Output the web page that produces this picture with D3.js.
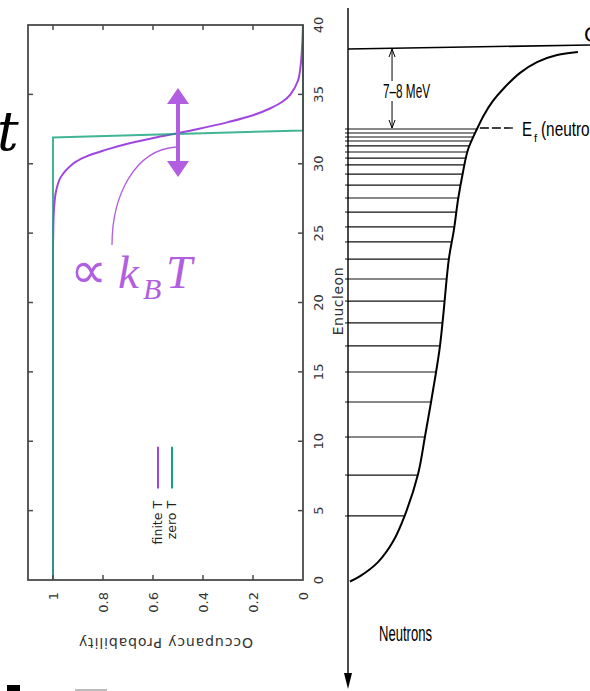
<!DOCTYPE html>
<html>
<head>
<meta charset="utf-8">
<script src="https://cdn.jsdelivr.net/npm/d3@7"></script>
<style>
  html, body { margin: 0; padding: 0; background: #fff; overflow: hidden; }
  svg { display: block; }
</style>
</head>
<body>
<svg id="chart" width="590" height="691"></svg>
<script>
// ---------------- DATA ----------------
// Left panel: occupancy probability vs nucleon energy (plot rotated)
const energyTicks = [0, 5, 10, 15, 20, 25, 30, 35, 40];
const probTicks = [1, 0.8, 0.6, 0.4, 0.2, 0];
const probTickLabels = ["1", "0.8", "0.6", "0.4", "0.2", "0"];
const finiteE   = [0, 20, 24, 25, 26, 27, 28, 29, 30, 30.5, 31, 31.5, 32, 32.5, 33, 33.5, 34, 34.5, 35, 36, 37, 38, 39, 40];
const finiteOcc = [1, 1, 1, 0.999, 0.998, 0.995, 0.988, 0.97, 0.92, 0.87, 0.79, 0.69, 0.56, 0.42, 0.3, 0.2, 0.13, 0.08, 0.05, 0.02, 0.01, 0.005, 0.002, 0];
const zeroE   = [0, 31.9, 32.4, 40];
const zeroOcc = [1, 1, 0, 0];
const legendLabels = ["finite T", "zero T"];
const xAxisLabel = "Occupancy Probability";
const yAxisLabel = "Enucleon";

// Right panel: nuclear potential well (radius fm, energy MeV)
const wellR = [0.08, 0.5, 1.24, 1.86, 2.36, 2.89, 3.18, 3.43, 3.64, 3.80, 3.93, 4.17, 4.38, 4.55, 4.75, 4.96, 5.33, 5.62, 5.99, 6.45, 7.11, 7.81, 8.64, 9.5];
const wellE = [-49.4, -48.9, -47.6, -45.7, -43.2, -39.5, -36.0, -32.8, -30.0, -27.6, -24.9, -19.5, -16.8, -14.0, -11.5, -9.4, -7.5, -6.2, -4.9, -3.7, -2.3, -1.3, -0.65, -0.37];
const levelE = [-7.5, -7.87, -8.24, -8.61, -9.07, -9.63, -10.19, -10.83, -11.67, -12.69, -13.89, -15.19, -16.57, -17.96, -19.54, -21.39, -23.43, -25.46, -27.59, -30.0, -32.78, -36.02, -39.54, -43.33];
const fermiLevel = -7.5;
const continuumE = 0;
const separationLabel = "7\u20138 MeV";
const wellLabel = "Neutrons";

// ---------------- SETUP ----------------
const svg = d3.select("#chart");
const frameCol = "#4a4a4a";
const textCol = "#333";
const purple = "#a046e0";
const green = "#14a37a";
const annot = "#b25ee0";

// Left panel scales
const x = d3.scaleLinear().domain([1.1, 0]).range([28, 303]);
const y = d3.scaleLinear().domain([0, 40]).range([580, 25]);

const L = svg.append("g");

// Finite T curve
const finitePts = finiteE.map((e, i) => [finiteOcc[i], e]);
L.append("path")
  .datum(finitePts)
  .attr("fill", "none")
  .attr("stroke", purple)
  .attr("stroke-width", 2)
  .attr("d", d3.line().x(d => x(d[0])).y(d => y(d[1])).curve(d3.curveCatmullRom));

// Zero T curve
const zeroPts = zeroE.map((e, i) => [zeroOcc[i], e]);
L.append("path")
  .datum(zeroPts)
  .attr("fill", "none")
  .attr("stroke", green)
  .attr("stroke-opacity", 0.8)
  .attr("stroke-width", 2)
  .attr("d", d3.line().x(d => x(d[0])).y(d => y(d[1])));

// Frame
L.append("rect")
  .attr("x", x(1.1)).attr("y", y(40))
  .attr("width", x(0) - x(1.1)).attr("height", y(0) - y(40))
  .attr("fill", "none").attr("stroke", frameCol).attr("stroke-width", 1.8);

// Energy ticks (right axis, mirrored left)
const tl = 5;
energyTicks.forEach(t => {
  if (t > 0 && t < 40) {
    L.append("line").attr("x1", x(0)).attr("x2", x(0) - tl).attr("y1", y(t)).attr("y2", y(t))
      .attr("stroke", frameCol).attr("stroke-width", 1.5);
    L.append("line").attr("x1", x(1.1)).attr("x2", x(1.1) + tl).attr("y1", y(t)).attr("y2", y(t))
      .attr("stroke", frameCol).attr("stroke-width", 1.5);
  }
  L.append("text")
    .attr("transform", `translate(${x(0) + 15},${y(t)}) rotate(-90)`)
    .attr("text-anchor", "middle")
    .attr("dy", "0.35em")
    .attr("font-family", "DejaVu Sans, sans-serif")
    .attr("font-size", 13)
    .attr("fill", textCol)
    .text(t);
});

// Probability ticks (bottom axis, mirrored top)
probTicks.forEach((p, i) => {
  if (p > 0) {
    L.append("line").attr("x1", x(p)).attr("x2", x(p)).attr("y1", y(0)).attr("y2", y(0) - tl)
      .attr("stroke", frameCol).attr("stroke-width", 1.5);
    L.append("line").attr("x1", x(p)).attr("x2", x(p)).attr("y1", y(40)).attr("y2", y(40) + tl)
      .attr("stroke", frameCol).attr("stroke-width", 1.5);
  }
  L.append("text")
    .attr("transform", `translate(${x(p)},${y(0) + 12}) rotate(-90)`)
    .attr("text-anchor", "end")
    .attr("dy", "0.35em")
    .attr("font-family", "DejaVu Sans, sans-serif")
    .attr("font-size", 13)
    .attr("fill", textCol)
    .text(probTickLabels[i]);
});

// Axis labels
L.append("text")
  .attr("transform", `translate(${x(0.55)},643) rotate(180)`)
  .attr("text-anchor", "middle")
  .attr("dy", "0.35em")
  .attr("font-family", "DejaVu Sans, sans-serif")
  .attr("font-size", 14)
  .attr("letter-spacing", 0.9)
  .attr("fill", textCol)
  .text(xAxisLabel);

L.append("text")
  .attr("transform", `translate(338,${y(20.1)}) rotate(-90)`)
  .attr("text-anchor", "middle")
  .attr("dy", "0.35em")
  .attr("font-family", "DejaVu Sans, sans-serif")
  .attr("font-size", 14)
  .attr("letter-spacing", 0.5)
  .attr("fill", textCol)
  .text(yAxisLabel);

// Legend
const legCols = [purple, green];
legendLabels.forEach((lab, i) => {
  const lx = 158 + i * 14;
  L.append("line").attr("x1", lx).attr("x2", lx).attr("y1", y(9.6)).attr("y2", y(6.6))
    .attr("stroke", legCols[i]).attr("stroke-width", 2);
  L.append("text")
    .attr("transform", `translate(${lx},${y(5.7)}) rotate(-90)`)
    .attr("text-anchor", "end")
    .attr("dy", "0.35em")
    .attr("font-family", "DejaVu Sans, sans-serif")
    .attr("font-size", 12.5)
    .attr("fill", "#222")
    .text(lab);
});

// ---------------- Annotations (left) ----------------
const A = svg.append("g");
A.append("text")
  .attr("x", -3).attr("y", 150)
  .attr("font-family", "DejaVu Serif, serif")
  .attr("font-style", "italic")
  .attr("font-size", 54)
  .attr("fill", "#000")
  .text("t");

// double arrow at Fermi energy
const ax = x(0.5);
A.append("line").attr("x1", ax).attr("x2", ax).attr("y1", 100).attr("y2", 165)
  .attr("stroke", annot).attr("stroke-width", 4);
A.append("path").attr("d", `M${ax},88 L${ax - 11},104 L${ax + 11},104 Z`).attr("fill", annot);
A.append("path").attr("d", `M${ax},177 L${ax - 11},161 L${ax + 11},161 Z`).attr("fill", annot);

// thin connector curve
A.append("path")
  .attr("d", `M112,245 C112,195 135,150 ${ax - 2},147`)
  .attr("fill", "none").attr("stroke", annot).attr("stroke-width", 1.3);

const kt = A.append("text")
  .attr("y", 288)
  .attr("fill", annot)
  .attr("font-family", "Liberation Serif, serif")
  .attr("font-size", 47);
kt.append("tspan").attr("x", 70).attr("font-size", 52).text("\u221D");
kt.append("tspan").attr("x", 118).attr("font-style", "italic").text("k");
kt.append("tspan").attr("x", 143).attr("dy", 11).attr("font-size", 30).attr("font-style", "italic").text("B");
kt.append("tspan").attr("x", 166).attr("dy", -11).attr("font-style", "italic").text("T");

// cut-off fragments at the bottom
A.append("rect").attr("x", 7).attr("y", 685).attr("width", 13).attr("height", 6).attr("fill", "#000");
A.append("rect").attr("x", 75).attr("y", 689).attr("width", 32).attr("height", 2).attr("fill", "#bbb");

// ---------------- RIGHT PANEL ----------------
const r = d3.scaleLinear().domain([0, 10]).range([348, 590]);
const e = d3.scaleLinear().domain([0, -50]).range([48, 588]);
const R = svg.append("g");

// energy levels (right end on the well wall)
const wallR = d3.scaleLinear().domain(wellE).range(wellR);
levelE.forEach(le => {
  R.append("line")
    .attr("x1", r(0)).attr("x2", r(wallR(le)))
    .attr("y1", e(le)).attr("y2", e(le))
    .attr("stroke", "#111").attr("stroke-width", 1.2);
  R.append("line")
    .attr("x1", r(0) - 3).attr("x2", r(0))
    .attr("y1", e(le)).attr("y2", e(le))
    .attr("stroke", "#111").attr("stroke-width", 1);
});

// well curve
R.append("path")
  .datum(wellR.map((v, i) => [v, wellE[i]]))
  .attr("fill", "none").attr("stroke", "#000").attr("stroke-width", 2)
  .attr("d", d3.line().x(d => r(d[0])).y(d => e(d[1])).curve(d3.curveCatmullRom));

// vertical energy axis with arrow down
R.append("line").attr("x1", r(0)).attr("x2", r(0)).attr("y1", 8).attr("y2", 680)
  .attr("stroke", "#000").attr("stroke-width", 1.4);
R.append("path").attr("d", `M${r(0)},689 L${r(0) - 4},673 L${r(0) + 4},673 Z`).attr("fill", "#000");

// continuum line
R.append("line").attr("x1", r(0)).attr("x2", 590).attr("y1", e(continuumE) + 1).attr("y2", e(continuumE) - 3)
  .attr("stroke", "#000").attr("stroke-width", 1.6);
R.append("text")
  .attr("x", 584).attr("y", 42)
  .attr("font-family", "Liberation Sans Narrow, Liberation Sans, sans-serif")
  .attr("font-size", 22).attr("fill", "#000")
  .text("Continuum");

// separation arrow 7-8 MeV
const sx = r(1.82);
R.append("line").attr("x1", sx).attr("x2", sx).attr("y1", e(continuumE) + 1).attr("y2", 81)
  .attr("stroke", "#000").attr("stroke-width", 1);
R.append("line").attr("x1", sx).attr("x2", sx).attr("y1", 101).attr("y2", e(fermiLevel) - 1)
  .attr("stroke", "#000").attr("stroke-width", 1);
R.append("path").attr("d", `M${sx - 3},${e(continuumE) + 9} L${sx},${e(continuumE) + 1} L${sx + 3},${e(continuumE) + 9}`)
  .attr("fill", "none").attr("stroke", "#000").attr("stroke-width", 1);
R.append("path").attr("d", `M${sx - 3},${e(fermiLevel) - 9} L${sx},${e(fermiLevel) - 1} L${sx + 3},${e(fermiLevel) - 9}`)
  .attr("fill", "none").attr("stroke", "#000").attr("stroke-width", 1);
R.append("text")
  .attr("x", 383).attr("y", 98)
  .attr("font-family", "Liberation Sans Narrow, Liberation Sans, sans-serif")
  .attr("font-size", 20).attr("fill", "#000")
  .attr("textLength", 47).attr("lengthAdjust", "spacingAndGlyphs")
  .text(separationLabel);

// Fermi level dashed line + label
R.append("line").attr("x1", r(5.45)).attr("x2", r(6.88)).attr("y1", e(fermiLevel) - 1).attr("y2", e(fermiLevel) - 1)
  .attr("stroke", "#000").attr("stroke-width", 1.3).attr("stroke-dasharray", "9,3");
R.append("text")
  .attr("x", 522).attr("y", 136)
  .attr("font-family", "Liberation Sans Narrow, Liberation Sans, sans-serif")
  .attr("font-size", 20).attr("fill", "#000")
  .attr("textLength", 10).attr("lengthAdjust", "spacingAndGlyphs")
  .text("E");
R.append("text")
  .attr("x", 534).attr("y", 142)
  .attr("font-family", "Liberation Sans Narrow, Liberation Sans, sans-serif")
  .attr("font-size", 11).attr("fill", "#000")
  .text("f");
R.append("text")
  .attr("x", 541).attr("y", 136)
  .attr("font-family", "Liberation Sans Narrow, Liberation Sans, sans-serif")
  .attr("font-size", 20).attr("fill", "#000")
  .attr("textLength", 70).attr("lengthAdjust", "spacingAndGlyphs")
  .text("(neutrons)");

// Neutrons label
R.append("text")
  .attr("x", 379).attr("y", 641)
  .attr("font-family", "Liberation Sans Narrow, Liberation Sans, sans-serif")
  .attr("font-size", 22).attr("fill", "#000")
  .attr("textLength", 53).attr("lengthAdjust", "spacingAndGlyphs")
  .text(wellLabel);
</script>
</body>
</html>
